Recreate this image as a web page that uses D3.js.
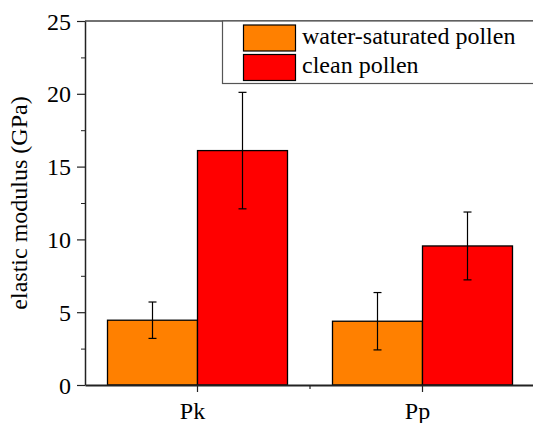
<!DOCTYPE html>
<meta charset="utf-8">
<style>
body { margin: 0; background: #fff; }
.axis path, .axis line { stroke: #222; }
</style>
<body>
<script src="https://cdn.jsdelivr.net/npm/d3@7"></script>
<script>

var categories = ["Pk", "Pp"];
var series = ["water-saturated pollen", "clean pollen"];
var colors = ["#ff8000", "#ff0000"];
var means = [[4.45, 16.1], [4.38, 9.55]];
var errors = [[1.25, 4.0], [1.97, 2.33]];
var yTicks = [0, 5, 10, 15, 20, 25];
var yMinor = [2.5, 7.5, 12.5, 17.5, 22.5];

var width = 533, height = 423;
var plotLeft = 85, plotRight = 535, plotTop = 21, plotBottom = 385;
var serif = "Liberation Serif";

var svg = d3.select("body").append("svg")
    .attr("width", width)
    .attr("height", height)
    .attr("font-family", serif);

var x = d3.scaleBand().domain(categories).range([plotLeft, plotRight]);
var xSub = d3.scaleBand().domain(series).range([0, x.bandwidth()]).paddingOuter(0.25);
var y = d3.scaleLinear().domain([0, 25]).range([plotBottom, plotTop]);

// bars
var rows = [];
categories.forEach(function (c, i) {
  series.forEach(function (s, j) {
    rows.push({cat: c, ser: s, v: means[i][j], e: errors[i][j], color: colors[j]});
  });
});

var g = svg.append("g");
g.selectAll("rect.bar")
  .data(rows)
  .enter().append("rect")
    .attr("class", "bar")
    .attr("x", function (d) { return x(d.cat) + xSub(d.ser); })
    .attr("y", function (d) { return y(d.v); })
    .attr("width", xSub.bandwidth())
    .attr("height", function (d) { return y(0) - y(d.v); })
    .attr("fill", function (d) { return d.color; })
    .attr("stroke", "#000")
    .attr("stroke-width", 1.3);

// error bars
var eb = g.selectAll("g.err").data(rows).enter().append("g")
    .attr("stroke", "#000").attr("stroke-width", 1.2);
function cx(d) { return x(d.cat) + xSub(d.ser) + xSub.bandwidth() / 2; }
eb.append("line")
  .attr("x1", cx).attr("x2", cx)
  .attr("y1", function (d) { return y(d.v + d.e); })
  .attr("y2", function (d) { return y(d.v - d.e); });
eb.append("line")
  .attr("x1", function (d) { return cx(d) - 4; }).attr("x2", function (d) { return cx(d) + 4; })
  .attr("y1", function (d) { return y(d.v + d.e); })
  .attr("y2", function (d) { return y(d.v + d.e); });
eb.append("line")
  .attr("x1", function (d) { return cx(d) - 4; }).attr("x2", function (d) { return cx(d) + 4; })
  .attr("y1", function (d) { return y(d.v - d.e); })
  .attr("y2", function (d) { return y(d.v - d.e); });

// frame top and right
svg.append("path")
  .attr("d", "M" + plotLeft + "," + plotTop + "H" + plotRight + "V" + plotBottom)
  .attr("fill", "none")
  .attr("stroke", "#444")
  .attr("stroke-width", 1.5);

// y axis
var yAxis = svg.append("g")
    .attr("class", "axis")
    .attr("transform", "translate(" + plotLeft + ",0)")
    .call(d3.axisLeft(y).tickValues(yTicks).tickSize(8).tickSizeOuter(0).tickPadding(6));
yAxis.attr("font-family", serif).attr("font-size", 24);
yAxis.select(".domain").attr("stroke-width", 1.5);
yAxis.selectAll(".tick line").attr("stroke-width", 1.2);
yAxis.selectAll("text").attr("dy", "0.34em");

svg.append("g")
    .attr("class", "axis")
    .attr("transform", "translate(" + plotLeft + ",0)")
    .call(d3.axisLeft(y).tickValues(yMinor).tickSize(4).tickFormat(""))
    .call(function (s) { s.select(".domain").remove(); });

// x axis
var xAxis = svg.append("g")
    .attr("class", "axis")
    .attr("transform", "translate(0," + plotBottom + ")")
    .call(d3.axisBottom(x).tickSize(7).tickSizeOuter(0).tickPadding(10));
xAxis.attr("font-family", serif).attr("font-size", 24);
xAxis.select(".domain").attr("stroke-width", 2);
xAxis.selectAll(".tick line").attr("stroke-width", 1.2);
xAxis.selectAll("text").attr("dx", "-5");

// minor tick between the groups
svg.append("line")
  .attr("x1", x(categories[1])).attr("x2", x(categories[1]))
  .attr("y1", plotBottom).attr("y2", plotBottom + 4)
  .attr("stroke", "#222").attr("stroke-width", 1.2);

// y label
svg.append("text")
  .attr("transform", "translate(27," + ((plotTop + plotBottom) / 2) + ") rotate(-90)")
  .attr("text-anchor", "middle")
  .attr("font-size", 24)
  .text("elastic modulus (GPa)");

// legend
var legend = svg.append("g");
legend.append("rect")
  .attr("x", 222.5).attr("y", plotTop)
  .attr("width", 330).attr("height", 62.5)
  .attr("fill", "#fff")
  .attr("stroke", "#555")
  .attr("stroke-width", 1.2);
var li = legend.selectAll("g.item").data(series).enter().append("g")
  .attr("transform", function (d, i) { return "translate(243.5," + (25 + i * 29.5) + ")"; });
li.append("rect")
  .attr("width", 52).attr("height", 26)
  .attr("fill", function (d, i) { return colors[i]; })
  .attr("stroke", "#000").attr("stroke-width", 1.2);
li.append("text")
  .attr("x", 58.5).attr("y", 18.5)
  .attr("font-size", 24)
  .text(function (d) { return d; });

</script>
</body>
